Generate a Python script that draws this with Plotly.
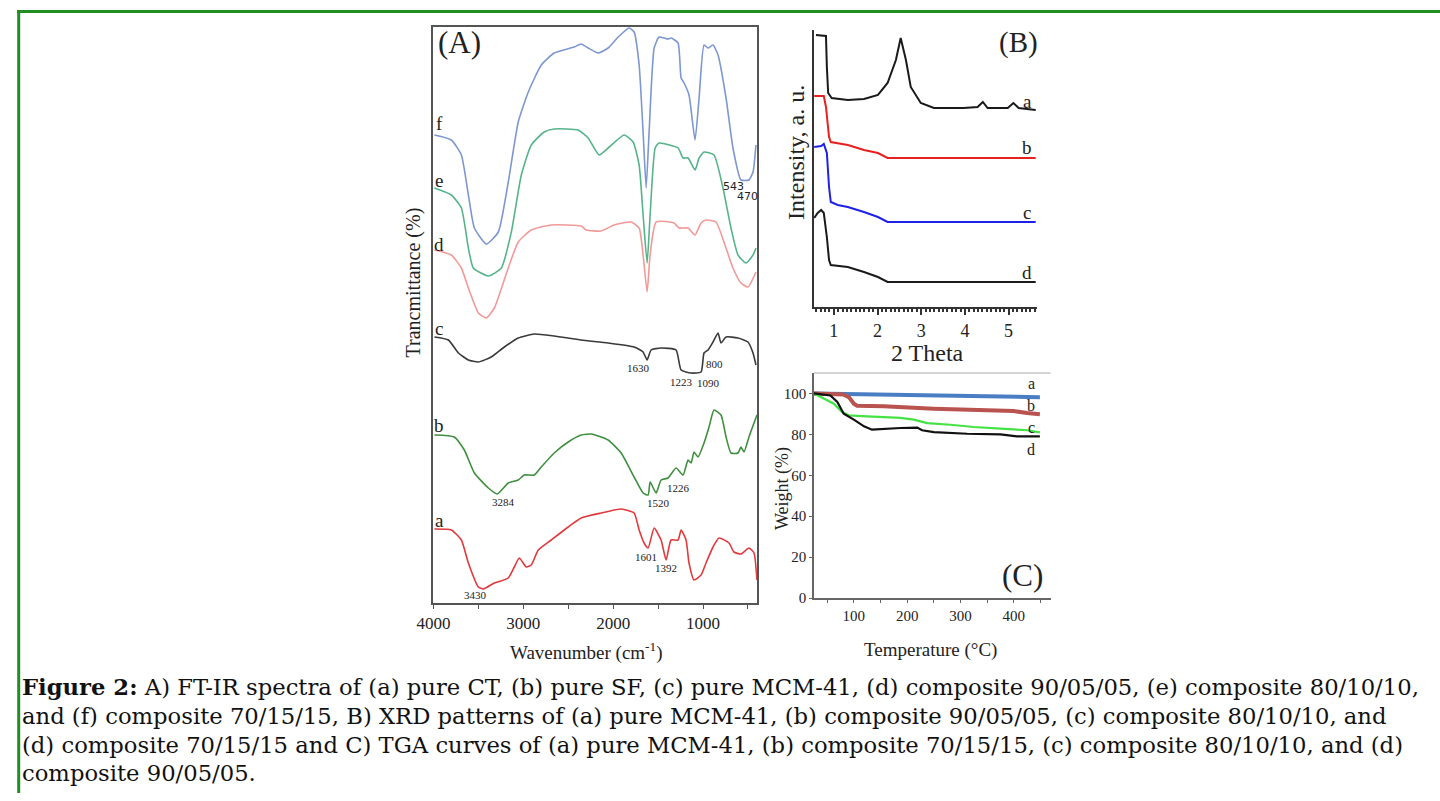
import plotly.graph_objects as go

W, H = 1440, 801

# ---------------- Panel A: FT-IR (wavenumber, offset transmittance a.u.) ----------------
ftir_f_wn = [3989, 3800, 3689, 3611, 3544, 3411, 3278, 3167, 3056, 2944, 2800, 2656, 2433, 2356, 2278, 2167, 2056, 1944, 1822, 1767, 1711, 1667, 1633, 1600, 1544, 1489, 1389, 1356, 1278, 1244, 1211, 1156, 1089, 1044, 989, 944, 889, 833, 744, 667, 578, 489, 444, 411]
ftir_f_t = [468, 463, 448, 408, 375, 359, 371, 421, 481, 511, 538, 550, 556, 559, 555, 550, 555, 566, 575, 571, 538, 471, 415, 471, 555, 566, 564, 565, 560, 525, 520, 508, 463, 505, 558, 555, 558, 548, 505, 455, 423, 423, 431, 458]

ftir_e_wn = [3989, 3800, 3689, 3611, 3556, 3389, 3244, 3133, 3022, 2911, 2767, 2656, 2389, 2278, 2156, 2044, 1878, 1778, 1711, 1667, 1622, 1589, 1533, 1489, 1278, 1222, 1167, 1089, 1044, 989, 878, 778, 689, 611, 522, 444, 411]
ftir_e_t = [415, 408, 395, 355, 335, 327, 335, 371, 428, 458, 471, 474, 473, 465, 448, 456, 468, 461, 438, 388, 340, 388, 455, 460, 455, 445, 445, 433, 445, 451, 448, 415, 375, 348, 340, 348, 355]

ftir_d_wn = [3989, 3800, 3689, 3611, 3500, 3411, 3322, 3167, 3056, 2911, 2689, 2356, 2300, 2133, 1989, 1800, 1711, 1667, 1622, 1589, 1522, 1322, 1267, 1167, 1089, 1022, 967, 856, 767, 667, 578, 500, 411]
ftir_d_t = [353, 348, 335, 315, 290, 285, 295, 335, 361, 373, 378, 377, 373, 372, 378, 381, 375, 348, 311, 348, 381, 380, 375, 375, 368, 380, 383, 381, 361, 335, 320, 316, 331]

ftir_c_wn = [3989, 3833, 3722, 3611, 3500, 3356, 3211, 3056, 2878, 2656, 2356, 2056, 1767, 1667, 1622, 1578, 1467, 1300, 1244, 1133, 1022, 989, 944, 889, 833, 800, 744, 611, 500, 444, 411]
ftir_c_t = [266, 263, 250, 243, 241, 246, 256, 265, 269, 267, 263, 260, 256, 251, 243, 253, 255, 253, 233, 230, 231, 250, 253, 261, 270, 260, 266, 265, 261, 250, 238]

ftir_b_wn = [3989, 3767, 3656, 3544, 3389, 3289, 3167, 3056, 2989, 2878, 2800, 2656, 2500, 2356, 2244, 2056, 1911, 1767, 1667, 1611, 1589, 1522, 1467, 1389, 1300, 1222, 1167, 1133, 1100, 1056, 989, 933, 878, 800, 744, 689, 611, 578, 544, 489, 433, 400]
ftir_b_t = [168, 166, 153, 130, 115, 109, 120, 123, 128, 128, 136, 150, 161, 168, 169, 163, 150, 126, 110, 108, 121, 110, 123, 125, 135, 128, 143, 140, 151, 146, 160, 176, 193, 188, 166, 150, 150, 156, 151, 166, 180, 188]

ftir_a_wn = [3989, 3800, 3689, 3611, 3500, 3444, 3322, 3167, 3100, 3044, 2967, 2911, 2833, 2689, 2500, 2356, 2133, 1911, 1767, 1711, 1656, 1611, 1544, 1467, 1411, 1356, 1278, 1244, 1189, 1156, 1100, 1022, 967, 889, 822, 711, 656, 578, 489, 433, 400]
ftir_a_t = [74, 73, 63, 40, 16, 14, 20, 25, 36, 45, 36, 38, 53, 63, 76, 85, 90, 94, 90, 73, 60, 55, 75, 63, 43, 63, 63, 73, 63, 40, 23, 28, 40, 56, 65, 60, 51, 49, 55, 50, 23]

ftir_letters = ["f", "e", "d", "c", "b", "a"]
ftir_letter_y = [479, 422, 358, 274, 177, 83]
ftir_peak_text = ["543", "470", "1630", "1223", "1090", "800", "3284", "1520", "1226", "3430", "1601", "1392"]
ftir_peak_wn = [656, 500, 1722, 1244, 944, 878, 3222, 1500, 1278, 3533, 1633, 1411]
ftir_peak_y = [416, 406, 235, 221, 220, 239, 101, 100, 115, 8, 46, 35]
ftir_ticks = [4000, 3000, 2000, 1000]

# ---------------- Panel B: XRD (2 theta, intensity a.u.) ----------------
xrd_a_x = [0.59, 0.82, 0.84, 0.87, 0.95, 1.32, 1.69, 2.01, 2.23, 2.42, 2.53, 2.65, 2.76, 2.99, 3.29, 3.97, 4.29, 4.41, 4.52, 4.98, 5.11, 5.23, 5.62]
xrd_a_y = [272, 271, 240, 214, 209, 207, 208, 212, 224, 247, 269, 247, 220, 204, 199, 199, 200, 205, 199, 199, 204, 199, 197]
xrd_b_x = [0.55, 0.77, 0.82, 0.89, 0.93, 1.32, 1.69, 2.01, 2.23, 5.62]
xrd_b_y = [211, 211, 200, 170, 165, 162, 157, 154, 149, 149]
xrd_c_x = [0.55, 0.71, 0.77, 0.84, 0.89, 0.93, 1.09, 1.32, 1.69, 2.01, 2.23, 5.62]
xrd_c_y = [160, 161, 163, 154, 120, 105, 102, 100, 95, 90, 85, 85]
xrd_d_x = [0.55, 0.63, 0.71, 0.77, 0.84, 0.89, 0.93, 1.32, 1.69, 2.01, 2.23, 5.62]
xrd_d_y = [89, 94, 97, 94, 70, 47, 42, 40, 35, 30, 25, 25]
xrd_letters = ["a", "b", "c", "d"]
xrd_letter_y = [205, 159, 94, 34]
xrd_ticks = [1, 2, 3, 4, 5]

# ---------------- Panel C: TGA (temperature, weight %) ----------------
tga_a_T = [25, 87.5, 250, 449]
tga_a_w = [100, 99.8, 99.2, 98.2]
tga_b_T = [25, 80, 90.6, 100, 106, 156, 250, 344, 400, 425, 449]
tga_b_w = [100, 99.5, 98.2, 95, 94, 93.7, 92.5, 91.7, 91.4, 90.4, 89.8]
tga_c_T = [25, 43.7, 62.5, 78, 90.6, 125, 187.5, 212.5, 237.5, 281, 325, 375, 425, 449]
tga_c_w = [100, 97.4, 95, 90.9, 89.3, 88.8, 88.1, 87.2, 85.5, 84.7, 83.6, 82.8, 82, 81]
tga_d_T = [25, 56, 69, 81, 100, 119, 134, 162.5, 187.5, 219, 228, 250, 312.5, 375, 406, 449]
tga_d_w = [100, 99, 95.8, 90.1, 87.2, 83.9, 82.3, 82.8, 83.1, 83.3, 82, 81.1, 80.3, 80, 79, 79]
tga_letters = ["a", "b", "c", "d"]
tga_letter_w = [105, 94, 83.4, 72.4]
tga_xticks = [100, 200, 300, 400]
tga_yticks = [0, 20, 40, 60, 80, 100]

caption_lines = [
    "<b>Figure 2:</b> A) FT-IR spectra of (a) pure CT, (b) pure SF, (c) pure MCM-41, (d) composite 90/05/05, (e) composite 80/10/10,",
    "and (f) composite 70/15/15, B) XRD patterns of (a) pure MCM-41, (b) composite 90/05/05, (c) composite 80/10/10, and",
    "(d) composite 70/15/15 and C) TGA curves of (a) pure MCM-41, (b) composite 70/15/15, (c) composite 80/10/10, and (d)",
    "composite 90/05/05.",
]

SERIF = "Liberation Serif, Times New Roman, serif"
CAPFONT = "DejaVu Serif, serif"

# the photographed page shows the figure on a 1425x793 area starting 15 px from the left
OX, PW, PH = 15.0, 1425.0, 793.0

def px_x(p):
    return max(0.0, (p - OX) / PW)

def px_y(p):
    return 1 - p / PH

fig = go.Figure()

ftir_series = [
    (ftir_f_wn, ftir_f_t, "#7d97d0"),
    (ftir_e_wn, ftir_e_t, "#55b48a"),
    (ftir_d_wn, ftir_d_t, "#f19a98"),
    (ftir_c_wn, ftir_c_t, "#3a3a3a"),
    (ftir_b_wn, ftir_b_t, "#3f8f3f"),
    (ftir_a_wn, ftir_a_t, "#e2393d"),
]
for xs, ys, col in ftir_series:
    fig.add_trace(go.Scatter(x=xs, y=ys, mode="lines", line=dict(color=col, width=1.6, shape="spline", smoothing=0.5),
                             xaxis="x", yaxis="y", showlegend=False, hoverinfo="skip"))

xrd_series = [
    (xrd_a_x, xrd_a_y, "#1a1a1a"),
    (xrd_b_x, xrd_b_y, "#e8201f"),
    (xrd_c_x, xrd_c_y, "#1f22e6"),
    (xrd_d_x, xrd_d_y, "#1a1a1a"),
]
for xs, ys, col in xrd_series:
    fig.add_trace(go.Scatter(x=xs, y=ys, mode="lines", line=dict(color=col, width=2),
                             xaxis="x2", yaxis="y2", showlegend=False, hoverinfo="skip"))

tga_series = [
    (tga_a_T, tga_a_w, "#4a7ec4", 4),
    (tga_b_T, tga_b_w, "#b9534f", 4),
    (tga_c_T, tga_c_w, "#45e245", 2.2),
    (tga_d_T, tga_d_w, "#111111", 2.2),
]
for xs, ys, col, lw in tga_series:
    fig.add_trace(go.Scatter(x=xs, y=ys, mode="lines", line=dict(color=col, width=lw),
                             xaxis="x3", yaxis="y3", showlegend=False, hoverinfo="skip"))

ann = []

def data_ann(x, y, xr, yr, text, family, size):
    return dict(x=x, y=y, xref=xr, yref=yr, text=text, showarrow=False, xanchor="center",
                yanchor="middle", borderpad=0, borderwidth=0,
                font=dict(family=family, size=size, color="#222"))

def paper_ann(px, py, text, size, angle=0, family=SERIF, anchor="center", color="#222"):
    return dict(x=px_x(px), y=px_y(py), xref="paper", yref="paper", text=text, textangle=angle,
                showarrow=False, xanchor=anchor, yanchor="middle",
                font=dict(family=family, size=size, color=color))

# Panel A annotations
for t, yv in zip(ftir_letters, ftir_letter_y):
    ann.append(data_ann(3933, yv, "x", "y", t, SERIF, 19))
for t, xv, yv in zip(ftir_peak_text, ftir_peak_wn, ftir_peak_y):
    fam = "DejaVu Sans, sans-serif" if t in ("543", "470") else SERIF
    ann.append(data_ann(xv, yv, "x", "y", t, fam, 11))
ann.append(data_ann(3711, 560, "x", "y", "(A)", SERIF, 31))
# Panel B annotations
for t, yv in zip(xrd_letters, xrd_letter_y):
    ann.append(data_ann(5.43, yv, "x2", "y2", t, SERIF, 19))
ann.append(data_ann(5.23, 264, "x2", "y2", "(B)", SERIF, 29))
# Panel C annotations
for t, yv in zip(tga_letters, tga_letter_w):
    ann.append(data_ann(433, yv, "x3", "y3", t, SERIF, 16))
ann.append(data_ann(416, 11.2, "x3", "y3", "(C)", SERIF, 31))

# Axis titles
ann += [
    paper_ann(412, 282, "Trancmittance (%)", 20, angle=-90),
    paper_ann(585, 651, "Wavenumber (cm<sup>-1</sup>)", 19),
    paper_ann(795, 152, "Intensity, a. u.", 24, angle=-90),
    paper_ann(927, 353, "2 Theta", 24),
    paper_ann(781, 488, "Weight (%)", 18, angle=-90),
    paper_ann(930, 650, "Temperature (°C)", 19),
]

# Caption
cap_y = [687, 716, 745, 773]
for line, yy in zip(caption_lines, cap_y):
    ann.append(paper_ann(18, yy, line, 22.7, family=CAPFONT, anchor="left", color="#111"))

shapes = [
    dict(type="line", xref="paper", yref="paper", x0=0, x1=1, y0=px_y(11.5), y1=px_y(11.5),
         line=dict(color="#1f8f1f", width=3)),
    dict(type="line", xref="paper", yref="paper", x0=0.0012, x1=0.0012, y0=0, y1=px_y(10),
         line=dict(color="#1f8f1f", width=3)),
    dict(type="line", xref="x3 domain", yref="y3 domain", x0=0, x1=1, y0=1, y1=1,
         line=dict(color="#aaaaaa", width=1)),
]

tickfont = dict(family=SERIF, size=17, color="#222")

fig.update_layout(
    width=W, height=H, margin=dict(l=0, r=0, t=0, b=0),
    paper_bgcolor="white", plot_bgcolor="white",
    annotations=ann, shapes=shapes,
    xaxis=dict(domain=[px_x(432), px_x(756)], range=[4000, 400], anchor="y",
               showline=True, linecolor="#555", linewidth=1.5, mirror=True,
               showgrid=False, zeroline=False, ticks="outside", ticklen=4, tickcolor="#555",
               tickvals=ftir_ticks, tickfont=tickfont,
               minor=dict(ticks="outside", ticklen=4, dtick=500, tick0=0, tickcolor="#555")),
    yaxis=dict(domain=[px_y(603), px_y(27)], range=[0, 576], anchor="x",
               showline=True, linecolor="#555", linewidth=1.5, mirror=True,
               showgrid=False, zeroline=False, showticklabels=False, ticks=""),
    xaxis2=dict(domain=[px_x(813), px_x(1036)], range=[0.543, 5.64], anchor="y2",
                showline=True, linecolor="#333", linewidth=2, showgrid=False, zeroline=False,
                ticks="outside", ticklen=6, tickwidth=1.5, tickcolor="#333", tickvals=xrd_ticks,
                tickfont=dict(family=SERIF, size=18, color="#222"),
                minor=dict(ticks="outside", ticklen=3, dtick=0.1, tick0=0, tickcolor="#333")),
    yaxis2=dict(domain=[px_y(307), px_y(30)], range=[0, 277], anchor="x2",
                showline=True, linecolor="#333", linewidth=2, showgrid=False, zeroline=False,
                showticklabels=False, ticks=""),
    xaxis3=dict(domain=[px_x(813), px_x(1050)], range=[25, 469], anchor="y3",
                showline=True, linecolor="#666", linewidth=1.5, showgrid=False, zeroline=False,
                ticks="outside", ticklen=3, tickcolor="#666", tickvals=tga_xticks,
                tickfont=dict(family=SERIF, size=15, color="#222"),
                minor=dict(ticks="outside", ticklen=3, dtick=50, tick0=0, tickcolor="#666")),
    yaxis3=dict(domain=[px_y(598), px_y(373)], range=[0, 110], anchor="x3",
                showline=True, linecolor="#666", linewidth=1.5, showgrid=False, zeroline=False,
                ticks="outside", ticklen=3, tickcolor="#666", tickvals=tga_yticks,
                tickfont=dict(family=SERIF, size=15, color="#222")),
)

fig.write_html("out.html")
